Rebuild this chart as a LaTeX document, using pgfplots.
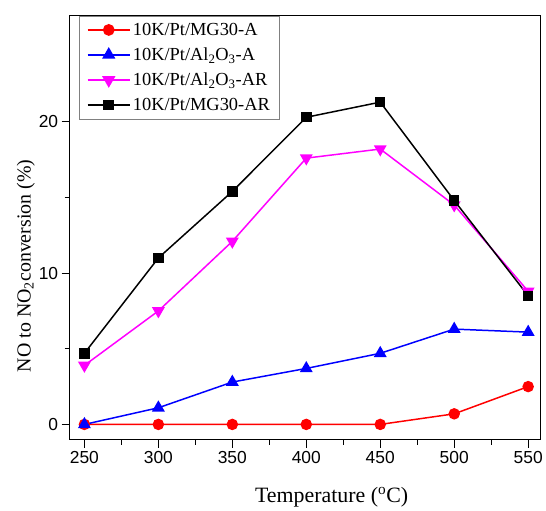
\documentclass[border=0pt]{standalone}
\usepackage{fontspec}
\setmainfont{Liberation Serif}
\setsansfont{Liberation Sans}
\usepackage{pgfplots}
\pgfplotsset{compat=1.18}
\definecolor{mag}{rgb}{1,0,1}
\begin{document}
\begin{tikzpicture}
\begin{axis}[
  name=ax,
  scale only axis,
  width=473pt, height=426pt,
  xmin=240, xmax=558, ymin=-1, ymax=27,
  xtick={250,300,...,550}, minor x tick num=1,
  ytick={0,10,20}, minor y tick num=1,
  tick align=outside, tick pos=left,
  major tick length=8pt, minor tick length=5pt,
  /pgf/number format/assume math mode=true,
  tick label style={font=\sffamily\fontsize{17.5}{19}\selectfont},
  label style={font=\fontsize{21}{23}\selectfont},
  xlabel={Temperature (\textsuperscript{o}C)},
  ylabel={NO to NO\textsubscript{2}conversion (\%)},
  xlabel style={at={(axis description cs:0.557,-0.136)}, anchor=center, font=\fontsize{22}{24}\selectfont},
  ylabel style={at={(axis description cs:-0.093,0.41)}, anchor=center, font=\fontsize{20}{22}\selectfont},
  axis line style={line width=1pt},
  every tick/.style={line width=0.8pt, black},
  legend style={at={(0.021,1)}, anchor=north west, draw=gray, font=\fontsize{18.5}{20}\selectfont, row sep=7pt, inner xsep=7pt, inner ysep=5pt},
  legend cell align=left,
  legend image code/.code={\draw[line width=1.8pt, mark repeat=2,mark phase=2] plot coordinates {(0cm,0cm) (0.75cm,0cm) (1.5cm,0cm)};},
  every axis plot/.append style={line width=1.5pt},
]
\addplot[red, mark=*, mark size=5pt] coordinates {(250,0) (300,0) (350,0) (400,0) (450,0) (500,0.7) (550,2.5)};
\addlegendentry{10K/Pt/MG30-A}
\addplot[blue, mark=triangle*, mark size=6pt] coordinates {(250,0) (300,1.1) (350,2.8) (400,3.7) (450,4.7) (500,6.3) (550,6.1)};
\addlegendentry{10K/Pt/Al\textsubscript{2}O\textsubscript{3}-A}
\addplot[mag, mark=triangle*, mark options={rotate=180}, mark size=6pt] coordinates {(250,3.9) (300,7.5) (350,12.1) (400,17.6) (450,18.2) (500,14.5) (550,8.8)};
\addlegendentry{10K/Pt/Al\textsubscript{2}O\textsubscript{3}-AR}
\addplot[black, mark=square*, mark size=4.5pt] coordinates {(250,4.7) (300,11.0) (350,15.4) (400,20.3) (450,21.3) (500,14.8) (550,8.5)};
\addlegendentry{10K/Pt/MG30-AR}
\end{axis}
\path[use as bounding box] (ax.south west) ++(-70pt,-68pt) rectangle ([shift={(3pt,16pt)}]ax.north east);
\end{tikzpicture}
\end{document}
